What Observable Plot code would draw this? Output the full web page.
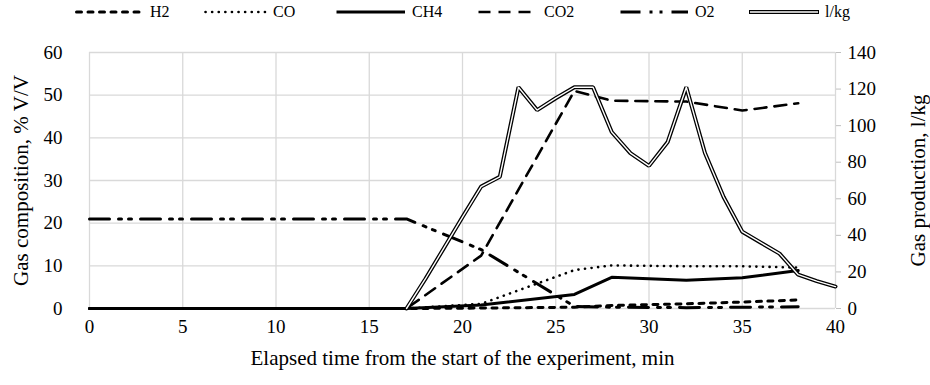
<!DOCTYPE html>
<html><head><meta charset="utf-8">
<script src="https://cdn.jsdelivr.net/npm/d3@7"></script>
<script src="https://cdn.jsdelivr.net/npm/@observablehq/plot@0.6"></script>
<style>
body{margin:0;background:#fff;font-family:"Liberation Serif",serif;}
#legend{position:relative;height:28px;width:930px;}
.item{position:absolute;top:0;height:24px;display:flex;align-items:center;font-size:16px;color:#000;font-family:"Liberation Serif",serif;}
.item svg{margin-right:5px;}
#chart svg text{font-family:"Liberation Serif",serif !important;}
</style></head><body>
<div id="legend"></div>
<div id="chart"></div>
<script>
// Gas composition samples (% V/V), left axis
const timeGas = [0, 17, 21, 26, 28, 32, 35, 38];
const h2  = [0, 0, 0.1, 0.3, 0.7, 1.1, 1.5, 2.0];
const co  = [0, 0, 1.1, 9.0, 10.1, 9.9, 9.9, 9.6];
const ch4 = [0, 0, 0.8, 3.3, 7.3, 6.6, 7.2, 8.9];
const co2 = [0, 0, 12.4, 51.0, 48.7, 48.5, 46.4, 48.1];
const o2  = [21, 21, 13.8, 0.5, 0.3, 0.2, 0.3, 0.4];
// Gas production (l/kg), right axis
const timeProd = [17, 18, 19, 20, 21, 22, 23, 24, 25, 26, 27, 28, 29, 30, 31, 32, 33, 34, 35, 36, 37, 38, 39, 40];
const prod = [0, 16, 33, 50, 66.7, 72, 121, 108.5, 115, 121, 121, 96.5, 85, 78, 91, 121, 85, 61, 42, 36, 30, 18.5, 15, 12];
// Ticks and labels
const xTicks = [0, 5, 10, 15, 20, 25, 30, 35, 40];
const leftTicks = [0, 10, 20, 30, 40, 50, 60];
const rightTicks = [0, 20, 40, 60, 80, 100, 120, 140];
const seriesNames = ["H2", "CO", "CH4", "CO2", "O2", "l/kg"];
const xTitle = "Elapsed time from the start of the experiment, min";
const leftTitle = "Gas composition, % V/V";
const rightTitle = "Gas production, l/kg";

const leftMax = 60, rightMax = 140;
const toLeft = v => v * leftMax / rightMax;

const styles = {
  "H2":  {strokeWidth: 3, strokeDasharray: "5,6.5", strokeLinecap: "round"},
  "CO":  {strokeWidth: 2.6, strokeDasharray: "0.1,6.5", strokeLinecap: "round"},
  "CH4": {strokeWidth: 3},
  "CO2": {strokeWidth: 2.6, strokeDasharray: "12,8"},
  "O2":  {strokeWidth: 3, strokeDasharray: "20,9,3,7,3,9"}
};
const gasSeries = {"H2": h2, "CO": co, "CH4": ch4, "CO2": co2, "O2": o2};

const gasRows = [];
for (const name of ["H2", "CO", "CH4", "CO2", "O2"]) {
  gasSeries[name].forEach((v, i) => gasRows.push({name, t: timeGas[i], v}));
}
const prodRows = timeProd.map((t, i) => ({t, v: toLeft(prod[i])}));

const grid = {stroke: "#d9d9d9", strokeOpacity: 1, strokeWidth: 1.3};
const marks = [
  Plot.gridY(leftTicks, grid),
  Plot.gridX(xTicks, grid),
  Plot.axisX(xTicks, {tickSize: 0, tickPadding: 11, fontSize: 19, label: null}),
  Plot.axisY(leftTicks, {anchor: "left", tickSize: 0, tickPadding: 27, fontSize: 19, label: null}),
  Plot.axisY(rightTicks.map(toLeft), {anchor: "right", tickSize: 5, tickPadding: 7, fontSize: 19, stroke: "#bfbfbf", fill: "#000",
    tickFormat: d => String(Math.round(d * rightMax / leftMax)), label: null}),
  Plot.text([xTitle], {text: d => d, frameAnchor: "bottom", dy: 50, fontSize: 21, textAnchor: "middle", lineAnchor: "middle"}),
  Plot.text([leftTitle], {text: d => d, frameAnchor: "left", dx: -68, rotate: -90, fontSize: 21, textAnchor: "middle", lineAnchor: "middle"}),
  Plot.text([rightTitle], {text: d => d, frameAnchor: "right", dx: 83, rotate: -90, fontSize: 21, textAnchor: "middle", lineAnchor: "middle"})
];
for (const name of ["H2", "CO", "CH4", "CO2", "O2"]) {
  marks.push(Plot.line(gasRows.filter(d => d.name === name), {x: "t", y: "v", stroke: "#000", strokeLinejoin: "round", ...styles[name]}));
}
marks.push(Plot.line(prodRows, {x: "t", y: "v", stroke: "#000", strokeWidth: 4, strokeLinejoin: "miter"}));
marks.push(Plot.line(prodRows, {x: "t", y: "v", stroke: "#fff", strokeWidth: 1.4, strokeLinejoin: "miter"}));

const chart = Plot.plot({
  width: 930, height: 357,
  marginTop: 24, marginBottom: 49 + 28, marginLeft: 89, marginRight: 95,
  x: {domain: [0, 40]},
  y: {domain: [0, leftMax]},
  style: {fontFamily: "Liberation Serif, serif", fontSize: "19px", color: "#000", background: "#fff"},
  marks
});
document.getElementById("chart").appendChild(chart);

// Legend
const legendPos = {"H2": [75, 68], "CO": [204, 62], "CH4": [335, 70], "CO2": [477, 60], "O2": [619, 69], "l/kg": [748, 70]};
const legend = document.getElementById("legend");
for (const name of seriesNames) {
  const [left, w] = legendPos[name];
  const item = document.createElement("div");
  item.className = "item";
  item.style.left = left + "px";
  const svg = d3.create("svg").attr("width", w + 2).attr("height", 10);
  if (name === "l/kg") {
    svg.append("line").attr("x1", 1).attr("x2", w + 1).attr("y1", 5).attr("y2", 5).attr("stroke", "#000").attr("stroke-width", 4);
    svg.append("line").attr("x1", 2).attr("x2", w).attr("y1", 5).attr("y2", 5).attr("stroke", "#fff").attr("stroke-width", 1.4);
  } else {
    const s = styles[name];
    svg.append("line").attr("x1", 1.5).attr("x2", w).attr("y1", 5).attr("y2", 5).attr("stroke", "#000")
      .attr("stroke-width", s.strokeWidth).attr("stroke-dasharray", s.strokeDasharray || null)
      .attr("stroke-linecap", s.strokeLinecap || "butt");
  }
  item.appendChild(svg.node());
  const span = document.createElement("span");
  span.textContent = name;
  item.appendChild(span);
  legend.appendChild(item);
}
</script>
</body></html>
